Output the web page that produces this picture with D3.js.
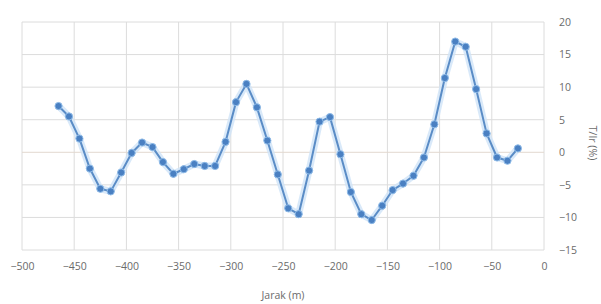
<!DOCTYPE html>
<html>
<head>
<meta charset="utf-8">
<script src="https://cdn.jsdelivr.net/npm/d3@7"></script>
<style>
  body { margin: 0; background: #fff; }
  .tick text, .axisLabel { font-family: "Open Sans", sans-serif; fill: #6b6b6b; }
</style>
</head>
<body>
<svg class="chart"></svg>
<script>
// distance along the line (m)
var jarak = [-465, -455, -445, -435, -425, -415, -405, -395, -385, -375,
             -365, -355, -345, -335, -325, -315, -305, -295, -285, -275,
             -265, -255, -245, -235, -225, -215, -205, -195, -185, -175,
             -165, -155, -145, -135, -125, -115, -105, -95, -85, -75,
             -65, -55, -45, -35, -25];
// T/Ir (%)
var nilai = [7.1, 5.5, 2.1, -2.5, -5.6, -6.0, -3.1, -0.1, 1.5, 0.8,
             -1.5, -3.3, -2.6, -1.8, -2.1, -2.1, 1.6, 7.7, 10.5, 6.9,
             1.8, -3.4, -8.6, -9.5, -2.8, 4.7, 5.4, -0.3, -6.1, -9.5,
             -10.4, -8.2, -5.8, -4.8, -3.6, -0.8, 4.3, 11.4, 17.0, 16.2,
             9.7, 2.9, -0.8, -1.3, 0.6];
var xTicks = [-500, -450, -400, -350, -300, -250, -200, -150, -100, -50, 0];
var yTicks = [-15, -10, -5, 0, 5, 10, 15, 20];

var width = 601, height = 304;
var margin = {top: 22, right: 57, bottom: 54, left: 22};
var chartWidth = width - margin.left - margin.right;
var chartHeight = height - margin.top - margin.bottom;

var svg = d3.select(".chart").attr("width", width).attr("height", height);
var chart = svg.append("g").attr("transform", "translate(" + margin.left + "," + margin.top + ")");

var x = d3.scaleLinear().domain([-500, 0]).range([0, chartWidth]);
var y = d3.scaleLinear().domain([-15, 20]).range([chartHeight, 0]);

// gridlines
chart.append("g")
  .selectAll("line").data(xTicks).enter().append("line")
  .attr("x1", function(d) { return x(d); }).attr("x2", function(d) { return x(d); })
  .attr("y1", 0).attr("y2", chartHeight)
  .attr("stroke", "#dcdcdc").attr("stroke-width", 1);
chart.append("g")
  .selectAll("line").data(yTicks).enter().append("line")
  .attr("x1", 0).attr("x2", chartWidth)
  .attr("y1", function(d) { return y(d); }).attr("y2", function(d) { return y(d); })
  .attr("stroke", function(d) { return d === 0 ? "#e2d8cf" : "#dcdcdc"; })
  .attr("stroke-width", 1);

// x axis
var xAxis = chart.append("g")
  .attr("transform", "translate(0," + chartHeight + ")")
  .call(d3.axisBottom(x).tickValues(xTicks).tickSize(0).tickPadding(13));
xAxis.select(".domain").remove();
xAxis.selectAll("text").style("font-size", "10.5px");

chart.append("text")
  .attr("class", "axisLabel")
  .attr("x", 261).attr("y", chartHeight + 49)
  .attr("text-anchor", "middle")
  .style("font-size", "10.5px")
  .text("Jarak (m)");

// y axis on the right
var yAxis = chart.append("g")
  .attr("transform", "translate(" + chartWidth + ",0)")
  .call(d3.axisRight(y).tickValues(yTicks).tickSize(0).tickPadding(15));
yAxis.select(".domain").remove();
yAxis.selectAll("text").style("font-size", "10.5px");

chart.append("text")
  .attr("class", "axisLabel")
  .attr("transform", "translate(" + (chartWidth + 45) + "," + 121 + ") rotate(90)")
  .attr("text-anchor", "middle")
  .style("font-size", "10.5px")
  .text("T/Ir (%)");

// series
var pts = jarak.map(function(d, i) { return {x: d, y: nilai[i]}; });
var line = d3.line().x(function(d) { return x(d.x); }).y(function(d) { return y(d.y); });

chart.append("path").datum(pts)
  .attr("d", line).attr("fill", "none")
  .attr("stroke", "#cfe4f8").attr("stroke-width", 7).attr("stroke-opacity", 0.8)
  .attr("stroke-linejoin", "round");
chart.append("path").datum(pts)
  .attr("d", line).attr("fill", "none")
  .attr("stroke", "#5a8cc6").attr("stroke-width", 2)
  .attr("stroke-linejoin", "round");

chart.append("g").selectAll("circle").data(pts).enter().append("circle")
  .attr("cx", function(d) { return x(d.x); })
  .attr("cy", function(d) { return y(d.y); })
  .attr("r", 3.6)
  .attr("fill", "#4a80c2")
  .attr("stroke", "#8fbbe8").attr("stroke-width", 1);
</script>
</body>
</html>
